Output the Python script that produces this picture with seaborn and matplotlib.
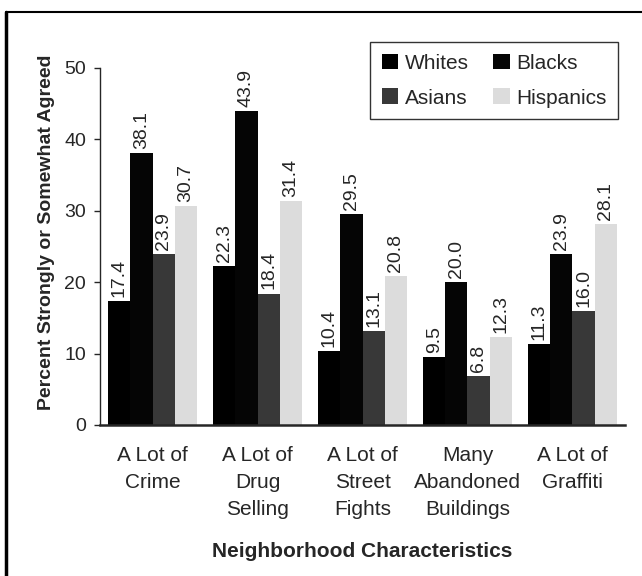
import pandas as pd
import matplotlib.pyplot as plt
from matplotlib.lines import Line2D
import seaborn as sns

sns.set_style("ticks")
plt.rcParams['font.family'] = ['Liberation Sans', 'DejaVu Sans']

# data
categories = ["A Lot of\nCrime", "A Lot of\nDrug\nSelling", "A Lot of\nStreet\nFights",
              "Many\nAbandoned\nBuildings", "A Lot of\nGraffiti"]
groups = ["Whites", "Blacks", "Asians", "Hispanics"]
whites = [17.4, 22.3, 10.4, 9.5, 11.3]
blacks = [38.1, 43.9, 29.5, 20.0, 23.9]
asians = [23.9, 18.4, 13.1, 6.8, 16.0]
hispanics = [30.7, 31.4, 20.8, 12.3, 28.1]
colors = ["#000000", "#050505", "#383838", "#dcdcdc"]

df = pd.DataFrame({
    "cat": categories * 4,
    "group": [g for g in groups for _ in categories],
    "pct": whites + blacks + asians + hispanics,
})

fig = plt.figure(figsize=(6.42, 5.76), dpi=100)
ax = fig.add_axes([0.1558, 0.2622, 0.8177, 0.6684])

sns.barplot(data=df, x="cat", y="pct", hue="group", hue_order=groups, order=categories,
            palette=colors, width=0.84, saturation=1, ax=ax, errorbar=None,
            linewidth=0, edgecolor='none')

for cont in ax.containers:
    ax.bar_label(cont, fmt="%.1f", rotation=90, padding=3, fontsize=14)

ax.set_xlim(-0.5, 4.5)
ax.set_ylim(0, 53.9)
ax.set_yticks([0, 10, 20, 30, 40, 50])
sns.despine(ax=ax)
ax.spines['left'].set_bounds(0, 50)
ax.spines['left'].set_linewidth(1.0)
ax.spines['bottom'].set_linewidth(1.8)
ax.tick_params(axis='y', length=4, width=1, pad=6, labelsize=14)
ax.tick_params(axis='x', length=0, pad=15, labelsize=15)
for t in ax.get_xticklabels():
    t.set_linespacing(1.55)

ax.set_ylabel("Percent Strongly or Somewhat Agreed", fontsize=14, fontweight='bold', labelpad=7)
ax.set_xlabel("Neighborhood Characteristics", fontsize=15, fontweight='bold', labelpad=16)

# legend laid out row-wise: Whites Blacks / Asians Hispanics
h, l = ax.get_legend_handles_labels()
idx = [0, 2, 1, 3]
leg = ax.legend([h[i] for i in idx], [l[i] for i in idx], ncol=2,
                loc='upper right', bbox_to_anchor=(0.963, 0.927), bbox_transform=fig.transFigure,
                borderaxespad=0, fontsize=15, frameon=True, fancybox=False, edgecolor='black',
                handlelength=0.8, handleheight=0.8, handletextpad=0.3,
                columnspacing=1.2, labelspacing=0.75, borderpad=0.55)
leg.get_frame().set_linewidth(1.0)

# page frame lines
fig.add_artist(Line2D([0.009, 0.009], [0, 0.98], color='black', lw=2.5, transform=fig.transFigure))
fig.add_artist(Line2D([0.009, 1.0], [0.979, 0.979], color='black', lw=1.5, transform=fig.transFigure))

fig.savefig("out.png", dpi=100)
